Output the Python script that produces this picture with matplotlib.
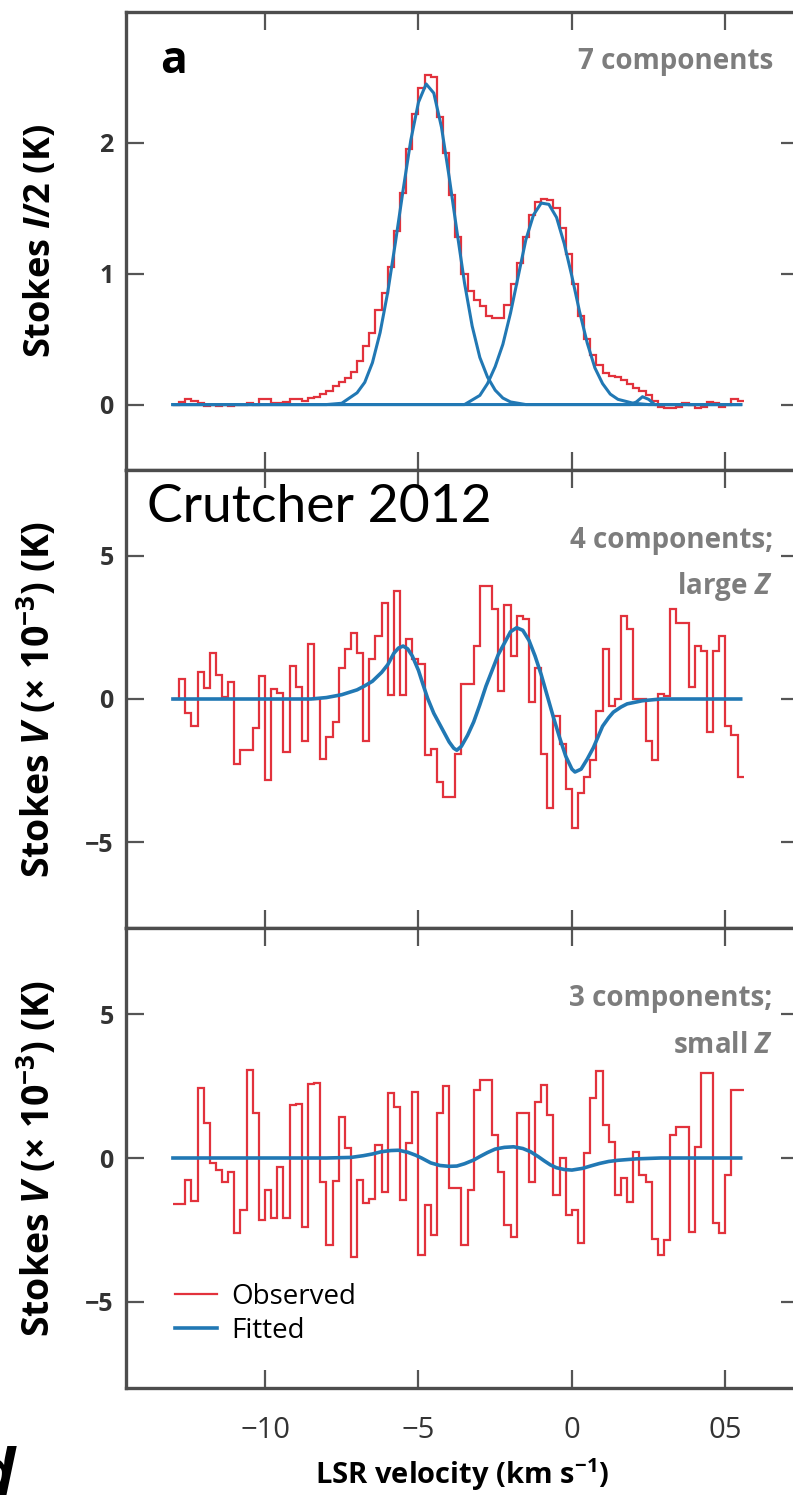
import numpy as np
import matplotlib
matplotlib.use("Agg")
import matplotlib.pyplot as plt

plt.rcParams["font.family"] = ["Open Sans", "DejaVu Sans"]
plt.rcParams["mathtext.fontset"] = "custom"
plt.rcParams["mathtext.rm"] = "Open Sans:bold"
plt.rcParams["mathtext.it"] = "Open Sans:italic:bold"

# spectrometer channels (km/s)
v_start = -13.0
chan_width = 0.2
n_chan = 93
v_edges = v_start + chan_width * np.arange(n_chan + 1)

# Stokes I/2 (K), observed
stokes_i_obs = [
    0.00, 0.02, 0.04, 0.03, 0.01, -0.01, 0.00, -0.01, 0.00, -0.01,
    0.00, 0.00, 0.01, 0.00, 0.04, 0.04, 0.01, 0.01, 0.02, 0.04,
    0.04, 0.03, 0.05, 0.06, 0.08, 0.10, 0.14, 0.17, 0.20, 0.25,
    0.33, 0.45, 0.55, 0.72, 0.85, 1.05, 1.33, 1.62, 1.95, 2.22,
    2.42, 2.52, 2.50, 2.20, 1.92, 1.60, 1.28, 1.00, 0.87, 0.80,
    0.75, 0.68, 0.66, 0.66, 0.76, 0.92, 1.08, 1.28, 1.45, 1.55,
    1.57, 1.56, 1.50, 1.35, 1.15, 0.92, 0.68, 0.50, 0.38, 0.30,
    0.24, 0.22, 0.21, 0.19, 0.16, 0.13, 0.10, 0.07, 0.03, -0.02,
    -0.03, -0.03, -0.02, 0.01, 0.00, -0.03, -0.02, 0.02, 0.01, -0.02,
    0.00, 0.04, 0.03,
]

# Gaussian components fitted to I
g1_v = [-13.0, -8.0, -7.5, -7.0, -6.75, -6.5, -6.25, -6.0, -5.75, -5.5, -5.25, -5.0,
        -4.75, -4.5, -4.25, -4.0, -3.75, -3.5, -3.25, -3.0, -2.75, -2.5, -2.25, -2.0,
        -1.5, 5.5]
g1_t = [0.0, 0.0, 0.01, 0.09, 0.17, 0.32, 0.55, 0.86, 1.24, 1.64, 2.02, 2.31,
        2.45, 2.38, 2.12, 1.74, 1.33, 0.93, 0.60, 0.36, 0.21, 0.11, 0.05, 0.02,
        0.0, 0.0]
g2_v = [-13.0, -3.5, -3.0, -2.75, -2.5, -2.25, -2.0, -1.75, -1.5, -1.25, -1.0, -0.75,
        -0.5, -0.25, 0.0, 0.25, 0.5, 0.75, 1.0, 1.25, 1.5, 2.0, 2.5, 5.5]
g2_t = [0.0, 0.0, 0.07, 0.16, 0.29, 0.46, 0.70, 0.98, 1.26, 1.45, 1.54, 1.53,
        1.43, 1.23, 0.98, 0.71, 0.47, 0.28, 0.16, 0.08, 0.04, 0.01, 0.0, 0.0]
g3_v = [-13.0, 1.9, 2.1, 2.3, 2.5, 2.7, 5.5]
g3_t = [0.0, 0.0, 0.02, 0.06, 0.04, 0.0, 0.0]

# Stokes V (1e-3 K), 4-component fit (large Z)
stokes_v_large = [
    0.00, 0.69, -0.49, -0.95, 0.93, 0.37, 1.62, 0.83, 0.06, 0.58,
    -2.26, -1.79, -1.79, -1.02, 0.81, -2.84, 0.35, 0.21, -1.85, 1.16,
    0.41, -1.45, 1.91, 0.00, -2.08, -1.33, -0.81, 1.10, 1.74, 2.31,
    1.62, -1.45, 1.39, 2.20, 3.36, 0.14, 3.76, 0.14, 2.08, 1.39,
    1.22, -1.97, -1.74, -2.89, -3.41, -3.41, -1.91, 0.52, 0.52, 1.85,
    3.94, 3.94, 3.13, 0.29, 3.30, 1.50, 2.89, 2.78, -0.12, 1.10,
    -1.91, -3.82, -0.58, -1.56, -3.13, -4.51, -3.30, -2.72, -2.14, -0.41,
    1.74, -0.23, 0.00, 2.89, 2.43, 0.00, 0.00, -1.45, -2.14, 0.17,
    0.12, 3.13, 2.66, 2.66, 0.41, 1.85, 1.68, -1.16, 1.68, 2.20,
    -0.93, -1.27, -2.72,
]
fit_large_v = [-13.0, -8.5, -8.0, -7.5, -7.0, -6.75, -6.5, -6.2, -6.0, -5.8, -5.65, -5.5,
               -5.35, -5.2, -5.0, -4.85, -4.7, -4.5, -4.25, -4.0, -3.85, -3.75, -3.6, -3.4,
               -3.2, -3.0, -2.8, -2.6, -2.4, -2.2, -2.0, -1.8, -1.6, -1.4, -1.2, -1.0,
               -0.8, -0.6, -0.4, -0.2, 0.0, 0.1, 0.3, 0.5, 0.7, 0.9, 1.0, 1.2,
               1.35, 1.6, 1.8, 2.3, 2.9, 5.5]
fit_large_t = [0.0, 0.0, 0.05, 0.15, 0.32, 0.46, 0.62, 0.93, 1.20, 1.60, 1.78, 1.85,
               1.75, 1.50, 1.00, 0.50, 0.02, -0.50, -1.00, -1.50, -1.72, -1.79, -1.65, -1.27,
               -0.80, -0.20, 0.45, 1.00, 1.55, 1.95, 2.35, 2.49, 2.40, 2.05, 1.50, 0.85,
               0.10, -0.65, -1.35, -2.00, -2.45, -2.55, -2.45, -2.10, -1.70, -1.20, -0.95, -0.65,
               -0.46, -0.28, -0.17, -0.06, 0.0, 0.0]

# Stokes V (1e-3 K), 3-component fit (small Z)
stokes_v_small = [
    -1.61, -1.61, -0.77, -1.50, 2.43, 1.21, -0.19, -0.42, -0.82, -0.48,
    -2.62, -1.81, 3.07, 1.56, -2.16, -1.11, -2.10, -0.30, -2.10, 1.85,
    1.87, -2.39, 2.57, 2.60, -0.82, -3.03, -0.80, 1.44, 0.34, -3.44,
    -0.77, -1.58, -1.41, 0.45, -1.17, 2.25, 1.79, -1.46, 0.51, 2.31,
    -3.38, -1.64, -2.68, 1.56, 2.49, -1.06, -1.06, -3.03, -1.11, 2.37,
    2.72, 2.72, 0.80, -0.48, -2.33, -2.74, 1.56, 1.56, -0.82, 1.96,
    2.54, 1.50, -1.29, -0.01, -1.98, -1.81, -2.97, 0.16, 2.07, 3.03,
    1.15, 0.57, -1.29, -0.71, -1.52, 0.22, -0.59, -0.82, -2.80, -3.38,
    -2.86, 0.80, 1.09, 1.09, -2.56, 0.40, 2.95, 2.95, -2.27, -2.62,
    -0.59, 2.37, 2.37,
]
fit_small_v = [-13.0, -8.0, -7.2, -6.8, -6.5, -6.2, -5.9, -5.65, -5.35, -5.1, -4.9, -4.6,
               -4.3, -4.0, -3.75, -3.5, -3.2, -3.0, -2.75, -2.5, -2.2, -1.9, -1.6, -1.35,
               -1.1, -0.9, -0.7, -0.5, -0.25, 0.0, 0.35, 0.6, 0.9, 1.2, 1.5, 2.1,
               2.9, 5.5]
fit_small_t = [0.0, 0.0, 0.02, 0.08, 0.14, 0.22, 0.26, 0.27, 0.20, 0.10, 0.0, -0.17,
               -0.26, -0.29, -0.28, -0.20, -0.07, 0.05, 0.19, 0.31, 0.37, 0.39, 0.33, 0.22,
               0.05, -0.10, -0.24, -0.34, -0.40, -0.42, -0.36, -0.28, -0.19, -0.12, -0.08, -0.03,
               0.0, 0.0]

red = "#e2323c"
blue = "#2178b4"
gray_txt = "#7d7d7d"

fig = plt.figure(figsize=(7.93, 15.03), dpi=100)
left, width = 126 / 793, 673 / 793
ax1 = fig.add_axes([left, 1 - 470 / 1503, width, 458 / 1503])
ax2 = fig.add_axes([left, 1 - 928 / 1503, width, 458 / 1503])
ax3 = fig.add_axes([left, 1 - 1388 / 1503, width, 460 / 1503])

for ax in (ax1, ax2, ax3):
    ax.set_xlim(-14.53, 7.4)
    ax.set_xticks([-10, -5, 0, 5])
    ax.tick_params(direction="in", length=13, width=1.6, color="#555555",
                   top=True, right=True, labelsize=18, pad=9, labelcolor="#333333")
    ax.tick_params(axis="x", labelsize=21, pad=20)
    for s in ax.spines.values():
        s.set_linewidth(2.4)
        s.set_color("#4d4d4d")
    ax.yaxis.set_label_coords(-0.1, 0.5)

ax1.stairs(stokes_i_obs, v_edges, baseline=None, color=red, lw=1.6)
ax1.plot(g1_v, g1_t, color=blue, lw=2.2)
ax1.plot(g2_v, g2_t, color=blue, lw=2.2)
ax1.plot(g3_v, g3_t, color=blue, lw=2.2)
ax1.set_ylim(-0.5, 3.0)
ax1.set_yticks([0, 1, 2], labels=["0", "1", "2"])
ax1.set_ylabel("Stokes $I$/2 (K)", fontsize=26, fontweight="bold")
ax1.tick_params(labelbottom=False)
for lab in ax1.get_yticklabels():
    lab.set_fontweight("bold")
ax1.text(0.05, 0.891, "a", transform=ax1.transAxes, fontsize=32, fontweight="bold",
         ha="left", va="center")
ax1.text(0.961, 0.891, "7 components", transform=ax1.transAxes, fontsize=20,
         fontweight="bold", color=gray_txt, ha="right", va="center")

ax2.stairs(stokes_v_large, v_edges, baseline=None, color=red, lw=1.6)
ax2.plot(fit_large_v, fit_large_t, color=blue, lw=2.6)
ax2.set_ylim(-8, 8)
ax2.set_yticks([-5, 0, 5], labels=["\u22125", "0", "5"])
ax2.set_ylabel("Stokes $V$ (\u00d7 10$^{-3}$) (K)", fontsize=27, fontweight="bold")
ax2.tick_params(labelbottom=False)
ax2.text(0.961, 0.847, "4 components;", transform=ax2.transAxes, fontsize=20,
         fontweight="bold", color=gray_txt, ha="right", va="center")
ax2.text(0.961, 0.745, "large $Z$", transform=ax2.transAxes, fontsize=20,
         fontweight="bold", color=gray_txt, ha="right", va="center")

ax3.stairs(stokes_v_small, v_edges, baseline=None, color=red, lw=1.6, label="Observed")
ax3.plot(fit_small_v, fit_small_t, color=blue, lw=2.6, label="Fitted")
ax3.set_ylim(-8, 8)
ax3.set_yticks([-5, 0, 5], labels=["\u22125", "0", "5"])
ax3.set_ylabel("Stokes $V$ (\u00d7 10$^{-3}$) (K)", fontsize=27, fontweight="bold")
ax3.set_xticks([-10, -5, 0, 5], labels=["\u221210", "\u22125", "0", "05"])
ax3.set_xlabel("LSR velocity (km s$^{-1}$)", fontsize=21, fontweight="bold", labelpad=8)
ax3.text(0.961, 0.847, "3 components;", transform=ax3.transAxes, fontsize=20,
         fontweight="bold", color=gray_txt, ha="right", va="center")
ax3.text(0.961, 0.745, "small $Z$", transform=ax3.transAxes, fontsize=20,
         fontweight="bold", color=gray_txt, ha="right", va="center")
ax3.legend(loc="lower left", bbox_to_anchor=(0.057, 0.07), frameon=False, fontsize=20,
           handlelength=1.5, handletextpad=0.5, labelspacing=0.2, borderaxespad=0)
for ax in (ax2, ax3):
    for lab in ax.get_yticklabels():
        lab.set_fontweight("bold")

fig.text(147 / 793, 1 - 522 / 1503, "Crutcher 2012", fontsize=38.5, family="Lato",
         ha="left", va="baseline")
fig.text(-0.03, -0.005, "d", fontsize=46, fontweight="bold", style="italic",
         ha="left", va="bottom")

fig.savefig("out.png", dpi=100)
